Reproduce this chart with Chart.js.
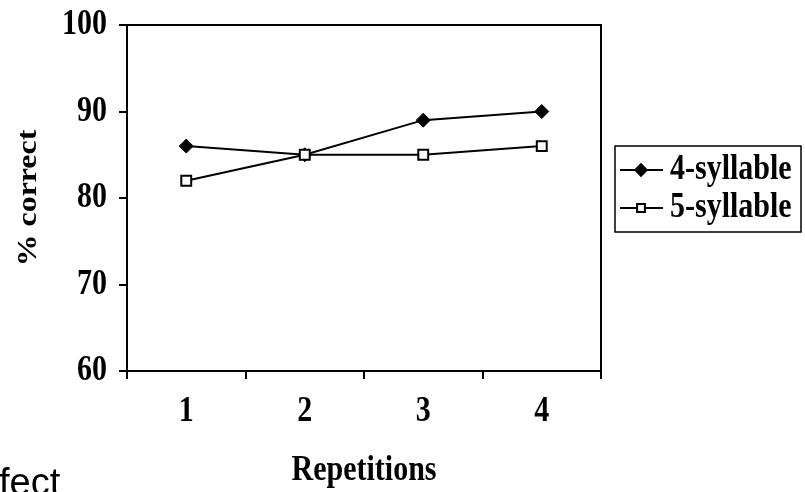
<!DOCTYPE html>
<html>
<head>
<meta charset="utf-8">
<script src="https://cdn.jsdelivr.net/npm/chart.js@4/dist/chart.umd.min.js"></script>
<style>
    html, body { margin: 0; padding: 0; background: #fff; }
    #wrap { width: 805px; height: 492px; }
</style>
</head>
<body>
<div id="wrap"><canvas id="chart1" width="805" height="492"></canvas></div>
<script>
const repetitions = ['1', '2', '3', '4'];
const fourSyllable = [86, 85, 89, 90];
const fiveSyllable = [82, 85, 85, 86];
const yTicks = [60, 70, 80, 90, 100];

const serif = '"Liberation Serif", "Times New Roman", serif';
const tall = 1.18; // the serif lettering is drawn a bit taller than wide

// bold serif text, stretched vertically (or along its length when rotated)
function tallText(ctx, text, x, y, size, align, rotate) {
    ctx.save();
    ctx.translate(x, y);
    if (rotate) {
        ctx.rotate(-Math.PI / 2);
        ctx.scale(tall, 1);
    } else {
        ctx.scale(1, tall);
    }
    ctx.font = 'bold ' + size + 'px ' + serif;
    ctx.fillStyle = '#000';
    ctx.textAlign = align;
    ctx.textBaseline = 'middle';
    ctx.fillText(text, 0, 0);
    ctx.restore();
}

// closes the plot frame (top and right edges)
const frame = {
    id: 'frame',
    afterDraw(chart) {
        const {ctx, chartArea: a} = chart;
        ctx.save();
        ctx.strokeStyle = '#000';
        ctx.lineWidth = 2;
        ctx.beginPath();
        ctx.moveTo(a.left, a.top);
        ctx.lineTo(a.right, a.top);
        ctx.lineTo(a.right, a.bottom);
        ctx.stroke();
        ctx.restore();
    }
};

// tick labels and axis titles
const axisText = {
    id: 'axisText',
    afterDraw(chart) {
        const ctx = chart.ctx;
        const xs = chart.scales.x, ys = chart.scales.y;
        ys.ticks.forEach(t => {
            tallText(ctx, String(t.value), 107, ys.getPixelForValue(t.value), 30, 'right');
        });
        repetitions.forEach((lab, i) => {
            tallText(ctx, lab, xs.getPixelForValue(i), 412, 30, 'center');
        });
        tallText(ctx, 'Repetitions', (xs.left + xs.right) / 2, 471, 30, 'center');
        tallText(ctx, '% correct', 29, (ys.top + ys.bottom) / 2, 27, 'center', true);
    }
};

// boxed legend with a line + marker sample for each series
const boxLegend = {
    id: 'boxLegend',
    afterDraw(chart) {
        const ctx = chart.ctx;
        const x = 615, y = 146, w = 186, h = 86;
        ctx.save();
        ctx.strokeStyle = '#000';
        ctx.lineWidth = 1.5;
        ctx.strokeRect(x, y, w, h);
        const sets = [chart.data.datasets[1], chart.data.datasets[0]];
        sets.forEach((ds, i) => {
            const cy = y + 24 + i * 38;
            ctx.strokeStyle = '#000';
            ctx.lineWidth = 2;
            ctx.beginPath();
            ctx.moveTo(x + 5, cy);
            ctx.lineTo(x + 48, cy);
            ctx.stroke();
            Chart.helpers.drawPoint(ctx, {
                pointStyle: ds.pointStyle,
                radius: ds.pointRadius - 1.5,
                borderWidth: 1.5
            }, x + 26, cy);
            ctx.fillStyle = ds.pointBackgroundColor;
            ctx.fill();
            ctx.stroke();
            tallText(ctx, ds.label, x + 55, cy, 30, 'left');
        });
        ctx.restore();
    }
};

// stray slide text at the lower left
const cornerText = {
    id: 'cornerText',
    afterDraw(chart) {
        const ctx = chart.ctx;
        ctx.save();
        ctx.fillStyle = '#000';
        ctx.font = '38px "Liberation Sans", Arial, sans-serif';
        ctx.textBaseline = 'alphabetic';
        ctx.fillText('fect', -1, 495);
        ctx.restore();
    }
};

const chart1 = new Chart(document.getElementById('chart1').getContext('2d'), {
    type: 'line',
    data: {
        labels: repetitions,
        datasets: [{
            label: '5-syllable',
            data: fiveSyllable,
            borderColor: '#000',
            borderWidth: 2,
            pointStyle: 'rect',
            pointRadius: 7,
            pointBackgroundColor: '#fff',
            pointBorderColor: '#000',
            pointBorderWidth: 2,
            tension: 0
        },
        {
            label: '4-syllable',
            data: fourSyllable,
            borderColor: '#000',
            borderWidth: 2,
            pointStyle: 'rectRot',
            pointRadius: 7,
            pointBackgroundColor: '#000',
            pointBorderColor: '#000',
            pointBorderWidth: 1,
            tension: 0
        }]
    },
    options: {
        responsive: false,
        animation: false,
        events: [],
        layout: { padding: { left: 0, right: 204, top: 25, bottom: 0 } },
        plugins: {
            legend: { display: false },
            tooltip: { enabled: false }
        },
        scales: {
            x: {
                type: 'category',
                offset: true,
                grid: {
                    offset: true,
                    drawOnChartArea: false,
                    color: '#000',
                    lineWidth: 2,
                    tickLength: 8
                },
                border: { color: '#000', width: 2 },
                ticks: { display: false },
                afterFit(scale) { scale.height = 121; }
            },
            y: {
                min: 60,
                max: 100,
                afterBuildTicks(scale) {
                    scale.ticks = yTicks.map(v => ({ value: v }));
                },
                grid: {
                    drawOnChartArea: false,
                    color: '#000',
                    lineWidth: 2,
                    tickLength: 8
                },
                border: { color: '#000', width: 2 },
                ticks: { display: false },
                afterFit(scale) { scale.width = 127; }
            }
        }
    },
    plugins: [frame, axisText, boxLegend, cornerText]
});
</script>
</body>
</html>
